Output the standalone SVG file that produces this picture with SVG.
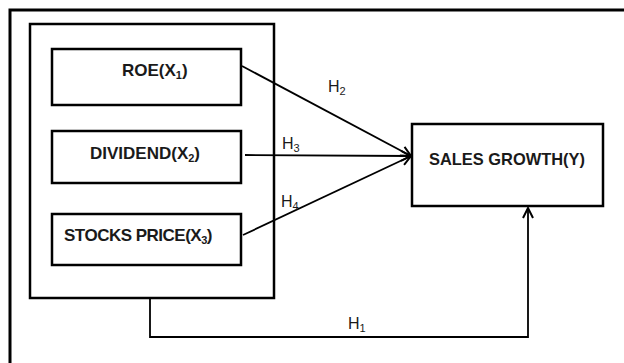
<svg xmlns="http://www.w3.org/2000/svg" width="624" height="363" viewBox="0 0 624 363">
  <defs>
    <style>
      .box { fill: #ffffff; stroke: #000000; stroke-width: 2.5; }
      .line { fill: none; stroke: #000000; stroke-width: 1.8; }
      .lbl { font-family: "Liberation Sans", Arial, sans-serif; font-weight: bold; font-size: 17px; fill: #1a1a1a; }
      .h { font-family: "Liberation Sans", Arial, sans-serif; font-size: 16px; fill: #1a1a1a; }
      .sub { font-size: 11px; }
    </style>
    <marker id="open" viewBox="0 0 12 12" refX="11" refY="6" markerWidth="12" markerHeight="12" markerUnits="userSpaceOnUse" orient="auto">
      <path d="M1,1 L11,6 L1,11" fill="none" stroke="#000" stroke-width="2"/>
    </marker>
  </defs>
  <rect width="624" height="363" fill="#ffffff"/>
  <path d="M10,363 V10 H624" fill="none" stroke="#000" stroke-width="3"/>

  <g id="independents">
    <rect class="box" x="30" y="24" width="244" height="274"/>
  </g>

  <g id="roe">
    <rect class="box" x="52" y="49" width="189" height="56"/>
    <text class="lbl" x="122" y="76">ROE(X<tspan class="sub" dy="3">1</tspan><tspan dy="-3">)</tspan></text>
  </g>

  <g id="dividend">
    <rect class="box" x="52" y="131" width="189" height="52"/>
    <text class="lbl" x="90" y="159">DIVIDEND(X<tspan class="sub" dy="3">2</tspan><tspan dy="-3">)</tspan></text>
  </g>

  <g id="stocks">
    <rect class="box" x="52" y="214" width="189" height="51"/>
    <text class="lbl" x="64" y="241" letter-spacing="-0.5">STOCKS PRICE(X<tspan class="sub" dy="3">3</tspan><tspan dy="-3">)</tspan></text>
  </g>

  <g id="sales">
    <rect class="box" x="412" y="124" width="191" height="82"/>
    <text class="lbl" x="429" y="165" textLength="156" lengthAdjust="spacingAndGlyphs">SALES GROWTH(Y)</text>
  </g>

  <g id="connectors">
    <line class="line" x1="242" y1="66" x2="411" y2="156" marker-end="url(#open)"/>
    <line class="line" x1="245" y1="155" x2="411" y2="156" marker-end="url(#open)"/>
    <line class="line" x1="243" y1="235" x2="411" y2="156" marker-end="url(#open)"/>
    <path class="line" d="M150,298 V337 H528 V208" marker-end="url(#open)"/>
    <text class="h" x="328" y="92">H<tspan class="sub" dy="3">2</tspan></text>
    <text class="h" x="282" y="149">H<tspan class="sub" dy="3">3</tspan></text>
    <text class="h" x="281" y="207">H<tspan class="sub" dy="3">4</tspan></text>
    <text class="h" x="348" y="329">H<tspan class="sub" dy="3">1</tspan></text>
  </g>
</svg>
